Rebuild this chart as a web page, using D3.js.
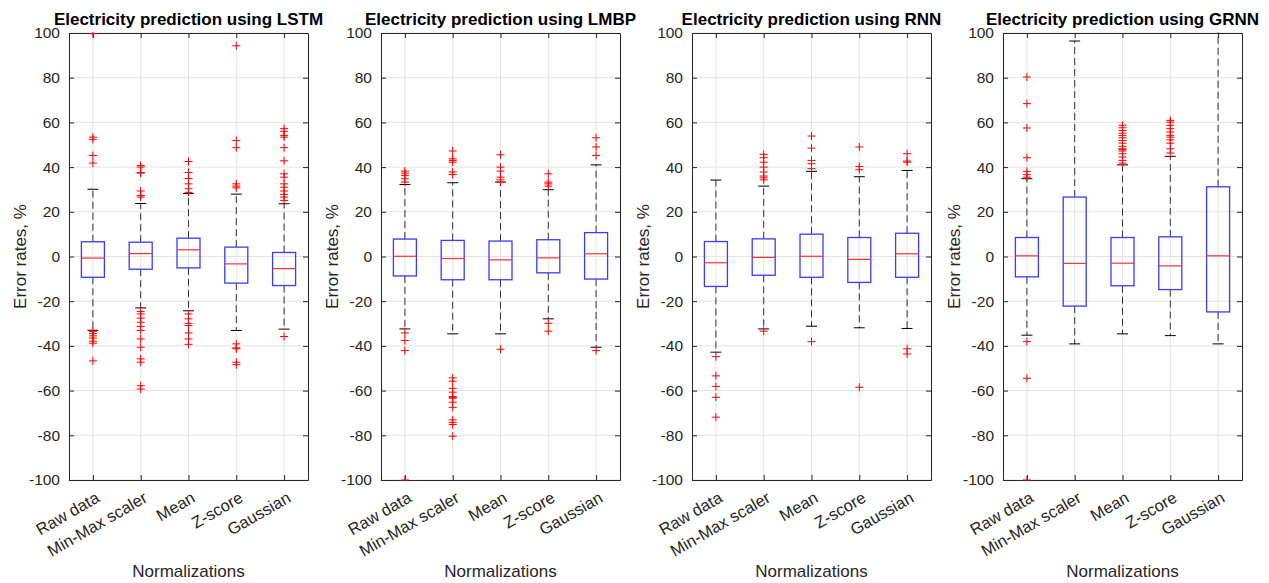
<!DOCTYPE html>
<html>
<head>
<meta charset="utf-8">
<script src="https://cdn.jsdelivr.net/npm/d3@7"></script>
<style>
  body { margin: 0; background: #fff; }
  text { font-family: "Liberation Sans", Arial, sans-serif; }
</style>
</head>
<body>
<script>
// categories + tick labels
var categories = ["Raw data", "Min-Max scaler", "Mean", "Z-score", "Gaussian"];
var yTicks = [-100, -80, -60, -40, -20, 0, 20, 40, 60, 80, 100];
var models = ["LSTM", "LMBP", "RNN", "GRNN"];

// box stats per model: [whiskerLow, q1, median, q3, whiskerHigh]
var lstmStats = [
  [-33, -9.3, -0.7, 6.6, 30.1],
  [-23, -5.7, 1.3, 6.4, 23.7],
  [-24.3, -5.1, 3, 8.2, 28.2],
  [-33.1, -11.9, -3.3, 4.2, 27.9],
  [-32.5, -13, -5.4, 1.8, 23.6]
];
var lmbpStats = [
  [-32.4, -8.7, 0.1, 7.8, 32.2],
  [-34.6, -10.4, -0.9, 7.2, 33],
  [-34.6, -10.4, -1.5, 6.9, 33.3],
  [-27.9, -7.3, -0.6, 7.5, 29.9],
  [-40.6, -10.1, 1.2, 10.7, 41]
];
var rnnStats = [
  [-42.8, -13.4, -2.8, 6.7, 34.2],
  [-32.4, -8.4, -0.4, 7.9, 31.5],
  [-31.2, -9.3, 0.1, 10, 38.1],
  [-31.9, -11.6, -1.3, 8.5, 35.7],
  [-32.2, -9.3, 1.2, 10.4, 38.5]
];
var grnnStats = [
  [-35.2, -9.1, 0.3, 8.5, 34.8],
  [-39.1, -22.2, -3.1, 26.6, 96.4],
  [-34.6, -13.1, -3, 8.5, 41],
  [-35.4, -14.8, -4.2, 8.8, 44.8],
  [-39.1, -24.8, 0.3, 31.2, 108]
];

// outliers per model, one list per category
var lstmOut = [
  [99.7, 53.4, 52.4, 45.2, 41.8, -33.6, -34.5, -35.5, -36.5, -37.9, -38.8, -46.7],
  [40.7, 40, 37.6, 37.3, 29.3, 27.3, 26.6, -24.6, -25.7, -27.6, -29.4, -31.3, -33.1, -36.9, -40.6, -45.8, -47.3, -57.8, -59.3],
  [42.5, 37.6, 34.9, 32.5, 30.3, 28.7, -25.7, -27.9, -29.9, -30.9, -34.2, -36.9, -39.3],
  [94.3, 51.9, 48.7, 32.5, 31.5, 30.7, -39.1, -40.9, -41.3, -47.3, -48.4],
  [57.2, 56, 54.2, 53.4, 48.7, 42.8, 37, 35.5, 32.5, 31, 29.3, 27.8, 26.6, 25.1, -35.8]
];
var lmbpOut = [
  [38.2, 37.3, 36.3, 34.8, 33.3, -34.2, -37.6, -42.1, -100],
  [47.2, 43.7, 43, 42.2, 37.8, 36.7, -54.3, -55.8, -59, -60.7, -62.7, -63, -63.4, -65.2, -67.5, -73.1, -74.2, -75.2, -80.4],
  [45.5, 40, 38.2, 35.5, 34.3, 33.3, -41.5],
  [37, 33.3, 32.5, 31.5, -29.9, -33.4],
  [53.1, 49, 45.2, -42.1]
];
var rnnOut = [
  [-44.8, -53.4, -58.1, -63, -71.9],
  [45.7, 44.2, 42.2, 40, 37.8, 36, 35.2, 34.3, -33.4],
  [53.9, 48.5, 43, 41.5, 39.3, -38.1],
  [49, 40.3, 38.8, -58.5],
  [46, 42.7, 42.2, -41.3, -43.6]
];
var grnnOut = [
  [80.3, 68.4, 57.5, 44.2, 38.1, 36.6, 35.5, -38.1, -54.5, -100],
  [],
  [58.7, 57.6, 56.4, 55.2, 54.2, 53.1, 51.9, 50.7, 49.3, 48.2, 47.8, 47.2, 46, 44.5, 43, 41.8],
  [60.9, 60.1, 58.7, 57.2, 55.7, 54.2, 53.4, 52.2, 50.7, 48.2, 46.3],
  []
];

var allStats = [lstmStats, lmbpStats, rnnStats, grnnStats];
var allOut = [lstmOut, lmbpOut, rnnOut, grnnOut];

var W = 1269, H = 583;
var panelLeft = [69, 381, 692, 1003];
var pw = 239, plotTop = 33, plotBottom = 480;

var svg = d3.select("body").append("svg")
  .attr("width", W)
  .attr("height", H);

var y = d3.scaleLinear().domain([-100, 100]).range([plotBottom, plotTop]);

models.forEach(function(m, i) {
  var x0 = panelLeft[i];
  var x = d3.scaleLinear().domain([0.5, 5.5]).range([x0, x0 + pw]);
  var g = svg.append("g");

  // clip so whiskers past 100 stay inside
  g.append("clipPath").attr("id", "clip" + i)
    .append("rect").attr("x", x0).attr("y", plotTop - 1).attr("width", pw).attr("height", plotBottom - plotTop + 2);

  // grid
  g.selectAll(".hg").data(yTicks).enter().append("line")
    .attr("x1", x0).attr("x2", x0 + pw)
    .attr("y1", d => y(d)).attr("y2", d => y(d))
    .attr("stroke", "#e3e3e3").attr("stroke-width", 1);
  g.selectAll(".vg").data(categories).enter().append("line")
    .attr("x1", (d, j) => x(j + 1)).attr("x2", (d, j) => x(j + 1))
    .attr("y1", plotTop).attr("y2", plotBottom)
    .attr("stroke", "#e3e3e3").attr("stroke-width", 1);

  // axes (MATLAB-ish box with inward ticks)
  var yl = d3.axisLeft(y).tickValues(yTicks).tickFormat(d => String(d))
    .tickSizeInner(-5).tickSizeOuter(0).tickPadding(9);
  var gy = g.append("g").attr("transform", "translate(" + x0 + ",0)").call(yl);
  gy.selectAll("text").attr("font-size", "15.5px").attr("fill", "#262626")
    .style("font-family", "'Liberation Sans', Arial, sans-serif");
  var yr = d3.axisRight(y).tickValues(yTicks).tickSizeInner(-5).tickSizeOuter(0).tickFormat("");
  g.append("g").attr("transform", "translate(" + (x0 + pw) + ",0)").call(yr);
  var xb = d3.axisBottom(x).tickValues([1, 2, 3, 4, 5]).tickSizeInner(-5).tickSizeOuter(0).tickFormat("");
  g.append("g").attr("transform", "translate(0," + plotBottom + ")").call(xb);
  var xt = d3.axisTop(x).tickValues([1, 2, 3, 4, 5]).tickSizeInner(-5).tickSizeOuter(0).tickFormat("");
  g.append("g").attr("transform", "translate(0," + plotTop + ")").call(xt);
  g.selectAll(".domain, .tick line").attr("stroke", "#262626");

  // box plots
  var pg = g.append("g").attr("clip-path", "url(#clip" + i + ")");
  var stats = allStats[i];
  var bw = 23, cw = 11;
  stats.forEach(function(s, j) {
    var cx = x(j + 1);
    // whiskers dashed
    pg.append("line").attr("x1", cx).attr("x2", cx).attr("y1", y(s[3])).attr("y2", y(s[4]))
      .attr("stroke", "#333").attr("stroke-dasharray", "7,4").attr("stroke-width", 1);
    pg.append("line").attr("x1", cx).attr("x2", cx).attr("y1", y(s[1])).attr("y2", y(s[0]))
      .attr("stroke", "#333").attr("stroke-dasharray", "7,4").attr("stroke-width", 1);
    // caps
    [s[0], s[4]].forEach(function(v) {
      pg.append("line").attr("x1", cx - cw / 2).attr("x2", cx + cw / 2)
        .attr("y1", y(v)).attr("y2", y(v)).attr("stroke", "#000").attr("stroke-width", 1);
    });
    // box
    pg.append("rect").attr("x", cx - bw / 2).attr("width", bw)
      .attr("y", y(s[3])).attr("height", y(s[1]) - y(s[3]))
      .attr("fill", "none").attr("stroke", "#3a3aff").attr("stroke-width", 1.3);
    // median
    pg.append("line").attr("x1", cx - bw / 2).attr("x2", cx + bw / 2)
      .attr("y1", y(s[2])).attr("y2", y(s[2])).attr("stroke", "#ff3030").attr("stroke-width", 1.2);
  });

  // outliers as red '+'
  allOut[i].forEach(function(list, j) {
    var cx = x(j + 1);
    pg.selectAll(".o" + j).data(list).enter().append("path")
      .attr("d", d => "M" + (cx - 4) + "," + y(d) + "h8M" + cx + "," + (y(d) - 4) + "v8")
      .attr("stroke", "#ff0000").attr("stroke-width", 1).attr("fill", "none");
  });

  // category labels rotated
  g.selectAll(".cl").data(categories).enter().append("text")
    .attr("transform", (d, j) => "translate(" + (x(j + 1) + 2) + "," + (plotBottom + 11) + ") rotate(-30)")
    .attr("text-anchor", "end")
    .attr("dy", "0.7em")
    .attr("font-size", "16.5px")
    .attr("fill", "#262626")
    .text(d => d);

  // titles & axis labels
  g.append("text").attr("x", x0 + pw / 2).attr("y", 25)
    .attr("text-anchor", "middle").attr("font-size", "17px").attr("font-weight", "bold")
    .attr("fill", "#000").text("Electricity prediction using " + m);
  g.append("text").attr("x", x0 + pw / 2).attr("y", 577)
    .attr("text-anchor", "middle").attr("font-size", "17px").attr("fill", "#262626")
    .text("Normalizations");
  g.append("text")
    .attr("transform", "translate(" + (x0 - 43) + "," + ((plotTop + plotBottom) / 2) + ") rotate(-90)")
    .attr("text-anchor", "middle").attr("font-size", "17px").attr("fill", "#262626")
    .text("Error rates, %");
});
</script>
</body>
</html>
